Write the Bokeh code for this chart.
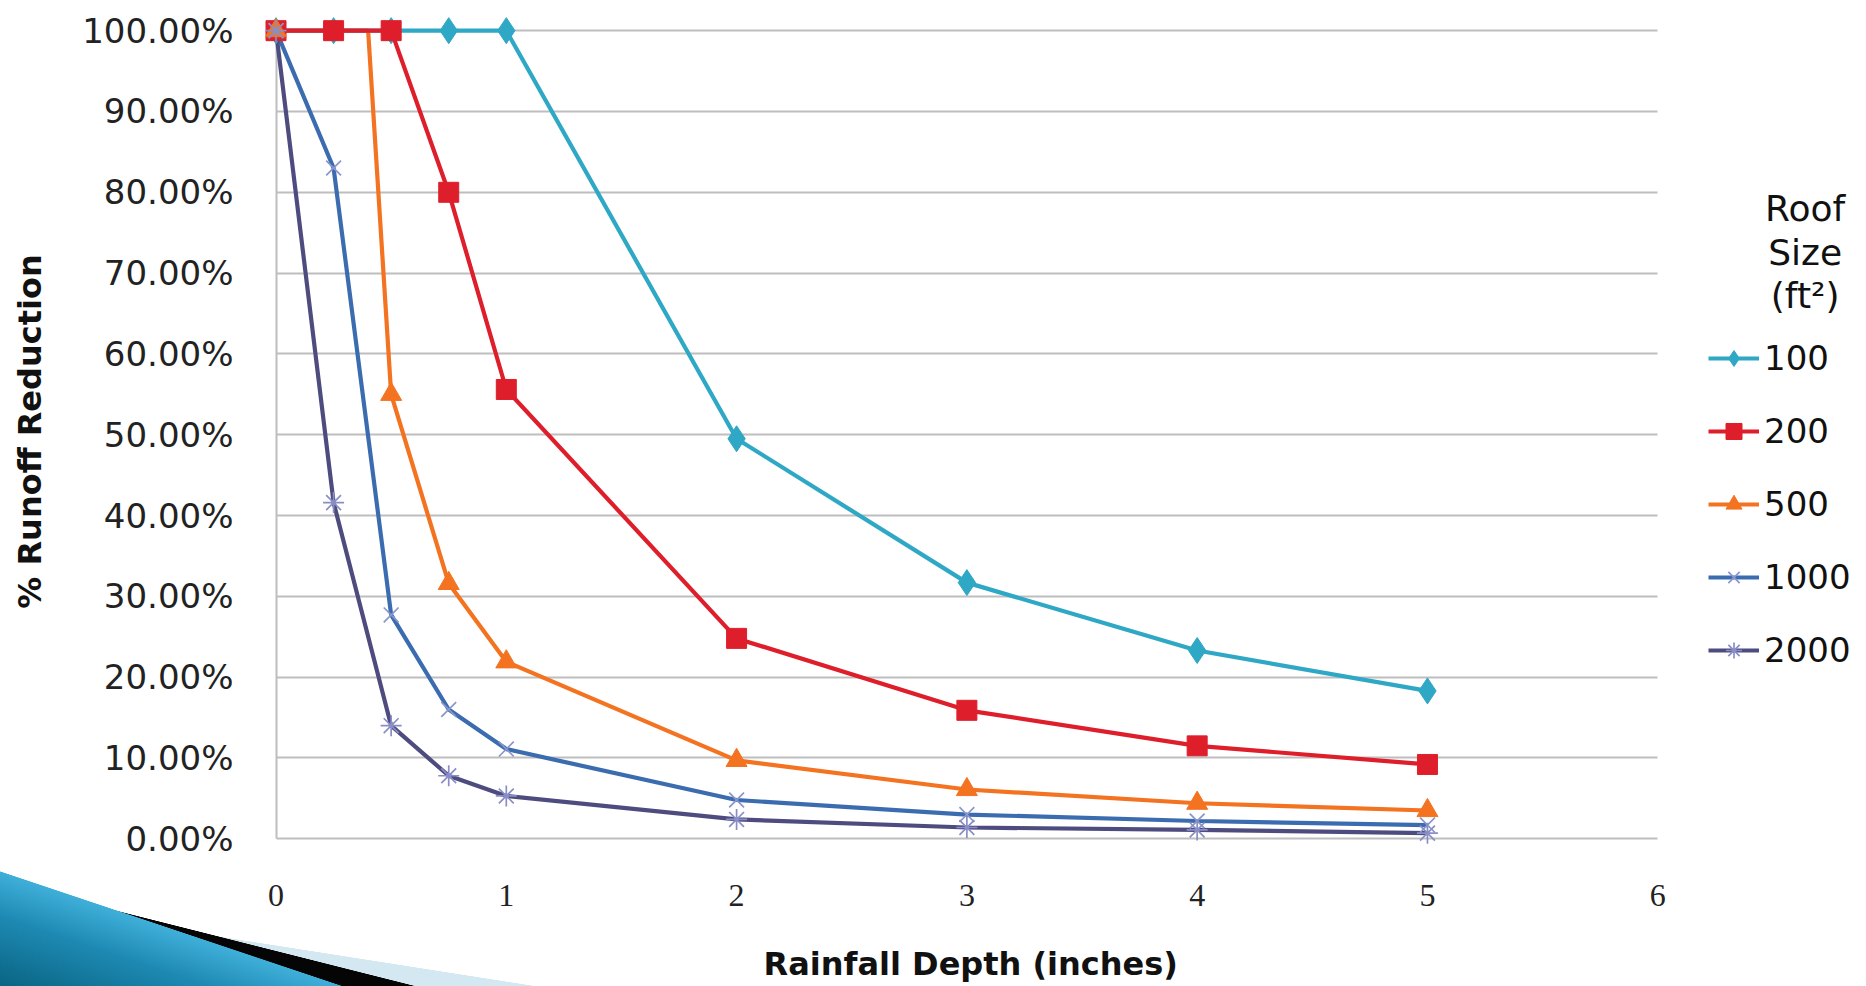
from bokeh.plotting import figure
from bokeh.models import Legend, LegendItem, Label, FixedTicker, NumeralTickFormatter, Range1d, Title
from bokeh.embed import file_html
from bokeh.resources import INLINE

# ---- data ----
rain = [0, 0.25, 0.5, 0.75, 1, 2, 3, 4, 5]
rain_500 = [0, 0.4, 0.5, 0.75, 1, 2, 3, 4, 5]
marker_500 = [True, False, True, True, True, True, True, True, True]

roof_100 = [1.00, 1.00, 1.00, 1.00, 1.00, 0.495, 0.317, 0.233, 0.183]
roof_200 = [1.00, 1.00, 1.00, 0.800, 0.556, 0.248, 0.159, 0.115, 0.092]
roof_500 = [1.00, 1.00, 0.550, 0.316, 0.219, 0.097, 0.061, 0.044, 0.035]
roof_1000 = [1.00, 0.830, 0.277, 0.160, 0.111, 0.048, 0.030, 0.022, 0.017]
roof_2000 = [1.00, 0.416, 0.140, 0.078, 0.053, 0.024, 0.014, 0.011, 0.007]

series_names = ["100", "200", "500", "1000", "2000"]
legend_title = ["Roof", "Size", "(ft²)"]
x_ticks = [0, 1, 2, 3, 4, 5, 6]
y_ticks = [0.0, 0.1, 0.2, 0.3, 0.4, 0.5, 0.6, 0.7, 0.8, 0.9, 1.0]

colors = {"100": "#2FA8C6", "200": "#DE1F2B", "500": "#F37321", "1000": "#3C6CB0", "2000": "#4E4C7F"}
mark_col = {"1000": "#8A96CC", "2000": "#8A8EC6"}

SANS = "DejaVu Sans"
X_MAX = 6.837

p = figure(frame_width=1586, frame_height=834,
           min_border_left=264, min_border_right=0, min_border_top=14, min_border_bottom=122,
           x_range=Range1d(-0.05, X_MAX), y_range=Range1d(-0.012, 1.02),
           output_backend="svg", toolbar_location=None, tools="")
p.outline_line_color = None
p.background_fill_color = "white"
p.border_fill_alpha = 0

# decorative slide swoosh in the lower-left corner (page background, not data)
p.styles = {
    "background-color": "white",
    "background-image": (
        "linear-gradient(to top right, #0A6483 0%, #1D89B2 30%, #3FAFD9 49.7%, rgba(255,255,255,0) 50%),"
        "linear-gradient(to top right, #050505 49.7%, rgba(255,255,255,0) 50%),"
        "linear-gradient(to top right, #D3E8F1 49.7%, rgba(255,255,255,0) 50%)"
    ),
    "background-size": "343px 115px, 416px 105px, 536px 84px",
    "background-position": "0px 871px, 0px 881px, 0px 902px",
    "background-repeat": "no-repeat",
}

# grid (horizontal lines stop at x = 6, the vertical axis line spans 0..100%)
p.ygrid.ticker = FixedTicker(ticks=y_ticks)
p.ygrid.grid_line_color = "#BEBEBE"
p.ygrid.grid_line_width = 2
p.ygrid.cross_bounds = (0, 6)
p.xgrid.ticker = FixedTicker(ticks=[0])
p.xgrid.grid_line_color = "#BEBEBE"
p.xgrid.grid_line_width = 2
p.xgrid.cross_bounds = (0, 1)

# axes
p.xaxis.ticker = FixedTicker(ticks=x_ticks)
p.xaxis.bounds = (0, 6)
p.xaxis.axis_line_color = None
p.xaxis.major_tick_line_color = None
p.xaxis.minor_tick_line_color = None
p.xaxis.major_label_standoff = 30
p.xaxis.major_label_text_font = "Liberation Serif"
p.xaxis.major_label_text_font_size = "32px"
p.xaxis.major_label_text_color = "#222222"

xtitle = Title(text="Rainfall Depth (inches)", align="left", offset=499, standoff=68,
               text_font=SANS, text_font_style="bold", text_font_size="32px", text_color="#111111")
p.add_layout(xtitle, "below")

p.yaxis.ticker = FixedTicker(ticks=y_ticks)
p.yaxis.bounds = (0, 1)
p.yaxis.formatter = NumeralTickFormatter(format="0.00%")
p.yaxis.axis_line_color = None
p.yaxis.major_tick_line_color = None
p.yaxis.minor_tick_line_color = None
p.yaxis.major_label_standoff = 25
p.yaxis.major_label_text_font = SANS
p.yaxis.major_label_text_font_size = "34px"
p.yaxis.major_label_text_color = "#222222"
p.yaxis.axis_label = "% Runoff Reduction"
p.yaxis.axis_label_text_font = SANS
p.yaxis.axis_label_text_font_style = "bold"
p.yaxis.axis_label_text_font_size = "32px"
p.yaxis.axis_label_text_color = "#111111"
p.yaxis.axis_label_standoff = 30

LW = 4.2
# lines (orange first so the red line sits above it, as in the reference)
l500 = p.line(rain_500, roof_500, line_color=colors["500"], line_width=LW)
l100 = p.line(rain, roof_100, line_color=colors["100"], line_width=LW)
l200 = p.line(rain, roof_200, line_color=colors["200"], line_width=LW)
l1000 = p.line(rain, roof_1000, line_color=colors["1000"], line_width=LW)
l2000 = p.line(rain, roof_2000, line_color=colors["2000"], line_width=LW)

# markers
m100 = p.scatter(rain, roof_100, marker="diamond", size=26, fill_color=colors["100"], line_color=colors["100"])
m200 = p.scatter(rain, roof_200, marker="square", size=20, fill_color=colors["200"], line_color=colors["200"])
mx500 = [x for x, f in zip(rain_500, marker_500) if f]
my500 = [y for y, f in zip(roof_500, marker_500) if f]
m500 = p.scatter(mx500, my500, marker="triangle", size=21, fill_color=colors["500"], line_color=colors["500"])
m1000 = p.scatter(rain, roof_1000, marker="x", size=21, line_color=mark_col["1000"], line_width=1.7)
m2000 = p.scatter(rain, roof_2000, marker="asterisk", size=21, line_color=mark_col["2000"], line_width=1.7)

legend = Legend(items=[
    LegendItem(label=series_names[0], renderers=[l100, m100]),
    LegendItem(label=series_names[1], renderers=[l200, m200]),
    LegendItem(label=series_names[2], renderers=[l500, m500]),
    LegendItem(label=series_names[3], renderers=[l1000, m1000]),
    LegendItem(label=series_names[4], renderers=[l2000, m2000]),
], location=(1444, 178), orientation="vertical")
legend.padding = 0
legend.margin = 0
legend.spacing = 33
legend.glyph_width = 51
legend.glyph_height = 40
legend.label_height = 40
legend.label_standoff = 5
legend.label_text_font = SANS
legend.label_text_font_size = "34px"
legend.label_text_color = "#111111"
legend.background_fill_alpha = 0
legend.border_line_color = None
p.add_layout(legend, "center")

for txt, yy in zip(legend_title, [0.780, 0.726, 0.672]):
    p.add_layout(Label(x=6.64, y=yy, text=txt, text_align="center", text_baseline="middle",
                       text_font=SANS, text_font_size="36px", text_color="#111111"))

open("out.html", "w").write(file_html(p, INLINE))
